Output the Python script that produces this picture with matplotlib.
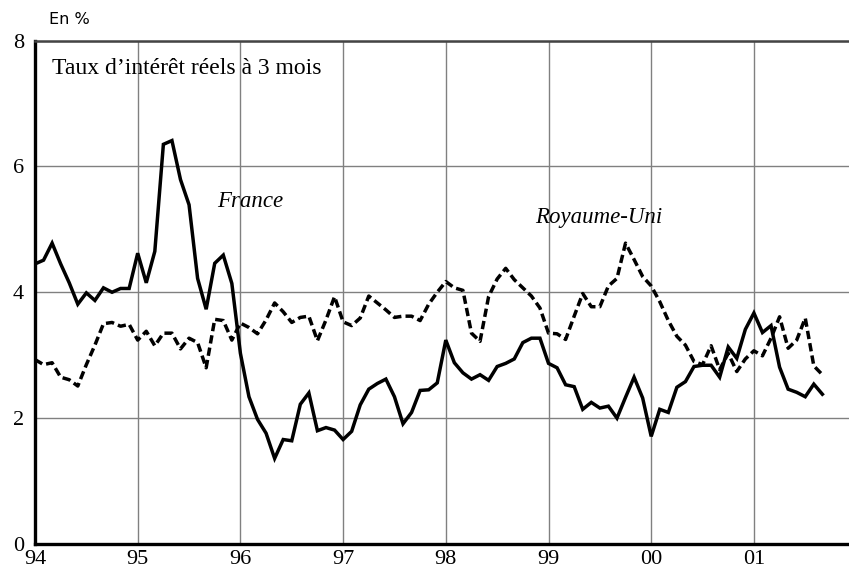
import matplotlib
matplotlib.use("Agg")
import matplotlib.pyplot as plt
import numpy as np

# ---- data (monthly, Jan 1994 .. Sep 2001) ----
france = [
    4.45, 4.51, 4.78, 4.45, 4.15, 3.81, 3.99, 3.87, 4.07, 4.00, 4.06, 4.06,   # 1994
    4.62, 4.15, 4.65, 6.35, 6.41, 5.79, 5.39, 4.22, 3.73, 4.46, 4.59, 4.14,   # 1995
    3.03, 2.34, 1.98, 1.76, 1.36, 1.66, 1.64, 2.22, 2.40, 1.80, 1.85, 1.81,   # 1996
    1.66, 1.79, 2.21, 2.46, 2.55, 2.62, 2.34, 1.91, 2.09, 2.44, 2.45, 2.56,   # 1997
    3.24, 2.88, 2.72, 2.62, 2.69, 2.60, 2.82, 2.87, 2.94, 3.20, 3.27, 3.27,   # 1998
    2.87, 2.80, 2.53, 2.50, 2.14, 2.25, 2.16, 2.19, 2.00, 2.33, 2.65, 2.32,   # 1999
    1.71, 2.14, 2.09, 2.49, 2.58, 2.82, 2.84, 2.84, 2.65, 3.13, 2.95, 3.41,   # 2000
    3.67, 3.36, 3.47, 2.81, 2.46, 2.41, 2.34, 2.54, 2.38,                     # 2001
]
royaume_uni = [
    2.93, 2.85, 2.88, 2.65, 2.61, 2.51, 2.85, 3.16, 3.50, 3.52, 3.46, 3.49,   # 1994
    3.24, 3.38, 3.15, 3.35, 3.35, 3.10, 3.27, 3.20, 2.80, 3.57, 3.55, 3.24,   # 1995
    3.51, 3.44, 3.34, 3.56, 3.83, 3.69, 3.52, 3.60, 3.62, 3.23, 3.56, 3.93,   # 1996
    3.53, 3.47, 3.59, 3.94, 3.83, 3.72, 3.60, 3.62, 3.62, 3.55, 3.81, 4.00,   # 1997
    4.17, 4.07, 4.03, 3.35, 3.22, 3.93, 4.21, 4.38, 4.20, 4.07, 3.94, 3.75,   # 1998
    3.35, 3.34, 3.25, 3.62, 3.98, 3.77, 3.77, 4.10, 4.22, 4.78, 4.52, 4.25,   # 1999
    4.10, 3.85, 3.55, 3.30, 3.16, 2.90, 2.85, 3.15, 2.77, 3.03, 2.74, 2.94,   # 2000
    3.07, 2.99, 3.27, 3.61, 3.11, 3.24, 3.59, 2.83, 2.69,                     # 2001
]
start_year = 1994
year_ticks = [1994, 1995, 1996, 1997, 1998, 1999, 2000, 2001]
year_labels = ["94", "95", "96", "97", "98", "99", "00", "01"]
y_ticks = [0, 2, 4, 6, 8]
title = "Taux d\u2019int\u00e9r\u00eat r\u00e9els \u00e0 3 mois"
unit = "En %"

t_fr = start_year + np.arange(len(france)) / 12.0
t_uk = start_year + np.arange(len(royaume_uni)) / 12.0

plt.rcParams["lines.scale_dashes"] = False
serif = ["Liberation Serif", "DejaVu Serif"]

W, H = 849, 575
fig = plt.figure(figsize=(W / 100, H / 100), dpi=100)
left_px, bottom_px, top_px = 35, 544, 40.5
px_per_year = 102.7
ax = fig.add_axes([left_px / W, (H - bottom_px) / H,
                   8 * px_per_year / W, (bottom_px - top_px) / H])
ax.set_xlim(1994, 2002)
ax.set_ylim(0, 8)

ax.set_xticks(year_ticks)
ax.set_xticklabels(year_labels)
ax.set_yticks(y_ticks)
ax.grid(True, color="#808080", linewidth=1.0)
ax.set_axisbelow(True)
ax.tick_params(length=0, labelsize=16)
ax.tick_params(axis="y", pad=8)
ax.tick_params(axis="x", pad=4)
for lab in ax.get_xticklabels() + ax.get_yticklabels():
    lab.set_family(serif)

for s in ["left", "bottom"]:
    ax.spines[s].set_linewidth(2.4)
    ax.spines[s].set_color("black")
ax.spines["top"].set_linewidth(1.8)
ax.spines["top"].set_color("#444444")
ax.spines["right"].set_visible(False)

ax.plot(t_fr, france, color="black", linewidth=2.5, solid_joinstyle="miter")
ax.plot(t_uk, royaume_uni, color="black", linewidth=2.5, linestyle=(0, (6, 3)))

ax.text(1994.17, 7.47, title, family=serif, fontsize=17, va="baseline", ha="left")
ax.text(1995.77, 5.36, "France", family=serif, style="italic", fontsize=16.5,
        va="baseline", ha="left")
ax.text(1998.87, 5.10, "Royaume-Uni", family=serif, style="italic", fontsize=16.5,
        va="baseline", ha="left")
fig.text(49 / W, 1 - 24 / H, unit, family=["DejaVu Sans"], fontsize=11.5,
         va="baseline", ha="left")

fig.savefig("out.png", dpi=100)
